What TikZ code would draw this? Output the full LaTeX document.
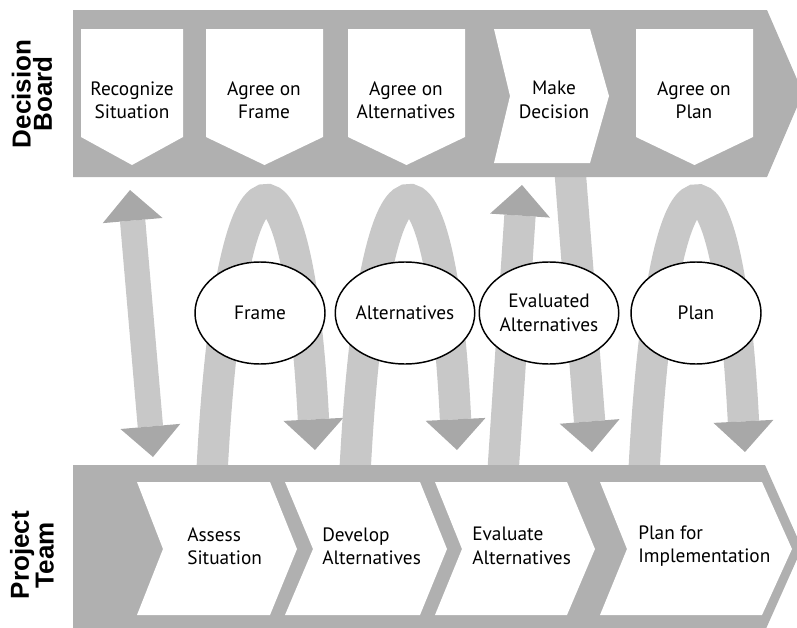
\documentclass[tikz,border=0pt]{standalone}
\usepackage{fontspec}
\setmainfont{PT Sans}
\newfontfamily\headfont{Liberation Sans}
\usetikzlibrary{shapes.geometric,arrows.meta,positioning}
\definecolor{bandgray}{RGB}{176,176,176}
\definecolor{loopgray}{RGB}{200,200,200}
\definecolor{headgray}{RGB}{168,168,168}

\begin{document}
\begin{tikzpicture}[
    x=0.75pt, y=-0.75pt,
    bighead/.tip={Triangle[length=23pt, width=45pt, line width=0pt, color=headgray, fill=headgray]},
    flow/.style={draw=loopgray, line width=23.5pt, -bighead},
    dblflow/.style={draw=loopgray, line width=19pt, bighead-bighead},
    steptext/.style={align=center, inner sep=0pt, font=\fontsize{14.5}{17.5}\selectfont},
    teamtext/.style={align=left, anchor=west, inner sep=0pt, font=\fontsize{14.5}{17.5}\selectfont},
    rowlabel/.style={rotate=90, align=center, inner sep=0pt, font=\headfont\bfseries\fontsize{19.5}{16}\selectfont},
    product/.style={ellipse, draw, line width=1.1pt, fill=white, minimum width=97.5pt, minimum height=76.5pt, inner sep=0pt, align=center, font=\fontsize{14.5}{17.5}\selectfont}
]
\useasboundingbox (0,0) rectangle (797,628);
\clip (0,0) rectangle (797,628);

% Loops between board and team
\coordinate (sitTop) at (130,190);
\coordinate (sitBot) at (153,457);
\draw[dblflow] (sitBot) -- (sitTop);

\coordinate (frameFoot) at (212,472);
\coordinate (frameTip) at (315,450);
\draw[flow] (frameFoot) .. controls (230,118) and (298,118) .. (frameTip);

\coordinate (altFoot) at (355,472);
\coordinate (altTip) at (457,450);
\draw[flow] (altFoot) .. controls (373,118) and (441,118) .. (altTip);

\coordinate (evalFoot) at (503,472);
\coordinate (evalTip) at (522,185);
\draw[flow] (evalFoot) -- (evalTip);

\coordinate (decFoot) at (570,170);
\coordinate (decTip) at (592,452);
\draw[flow] (decFoot) -- (decTip);

\coordinate (planFoot) at (644,472);
\coordinate (planTip) at (745,452);
\draw[flow] (planFoot) .. controls (662,118) and (728,118) .. (planTip);

% Decision Board band
\fill[bandgray] (73,10) -- (767,10) -- (803,93) -- (767,177) -- (73,177) -- cycle;
\foreach \l/\r in {81/183, 206/323, 348/465, 636/753}
  \fill[white] (\l,29) -- (\r,29) -- (\r,137) -- ({(\l+\r)/2},165) -- (\l,137) -- cycle;
\fill[white] (494,29) -- (590,29) -- (609,96) -- (590,163) -- (494,163) -- (510,96) -- cycle;

\node[steptext] (recog) at (132,100) {Recognize\\Situation};
\node[steptext] (agframe) at (264,100) {Agree on\\Frame};
\node[steptext] (agalt) at (406,100) {Agree on\\Alternatives};
\node[steptext] (decide) at (554,100) {Make\\Decision};
\node[steptext] (agplan) at (694,100) {Agree on\\Plan};
\node[rowlabel] (board) at (32,94) {Decision\\Board};

% Project Team band
\fill[bandgray] (73,465) -- (765,465) -- (802,548) -- (765,631) -- (73,631) -- cycle;
\fill[white] (137,482) -- (270,482) -- (297,549) -- (270,615) -- (137,615) -- (163,549) -- cycle;
\fill[white] (285,482) -- (420,482) -- (447,549) -- (420,615) -- (285,615) -- (313,549) -- cycle;
\fill[white] (435,482) -- (567,482) -- (595,549) -- (567,615) -- (435,615) -- (462,549) -- cycle;
\fill[white] (600,482) -- (762,482) -- (792,549) -- (762,615) -- (600,615) -- (627,549) -- cycle;

\node[teamtext] (assess) at (187,546) {Assess\\Situation};
\node[teamtext] (develop) at (322,546) {Develop\\Alternatives};
\node[teamtext] (evaluate) at (472,546) {Evaluate\\Alternatives};
\node[teamtext] (implement) at (638,546) {Plan for\\Implementation};
\node[rowlabel] (team) at (32,555) {Project\\Team};

% Products
\node[product] (frame) at (260,313) {Frame};
\node[product] (alts) at (405,313) {Alternatives};
\node[product] (evalalts) at (549,313) {Evaluated\\Alternatives};
\node[product] (plan) at (696,313) {Plan};

\end{tikzpicture}
\end{document}
